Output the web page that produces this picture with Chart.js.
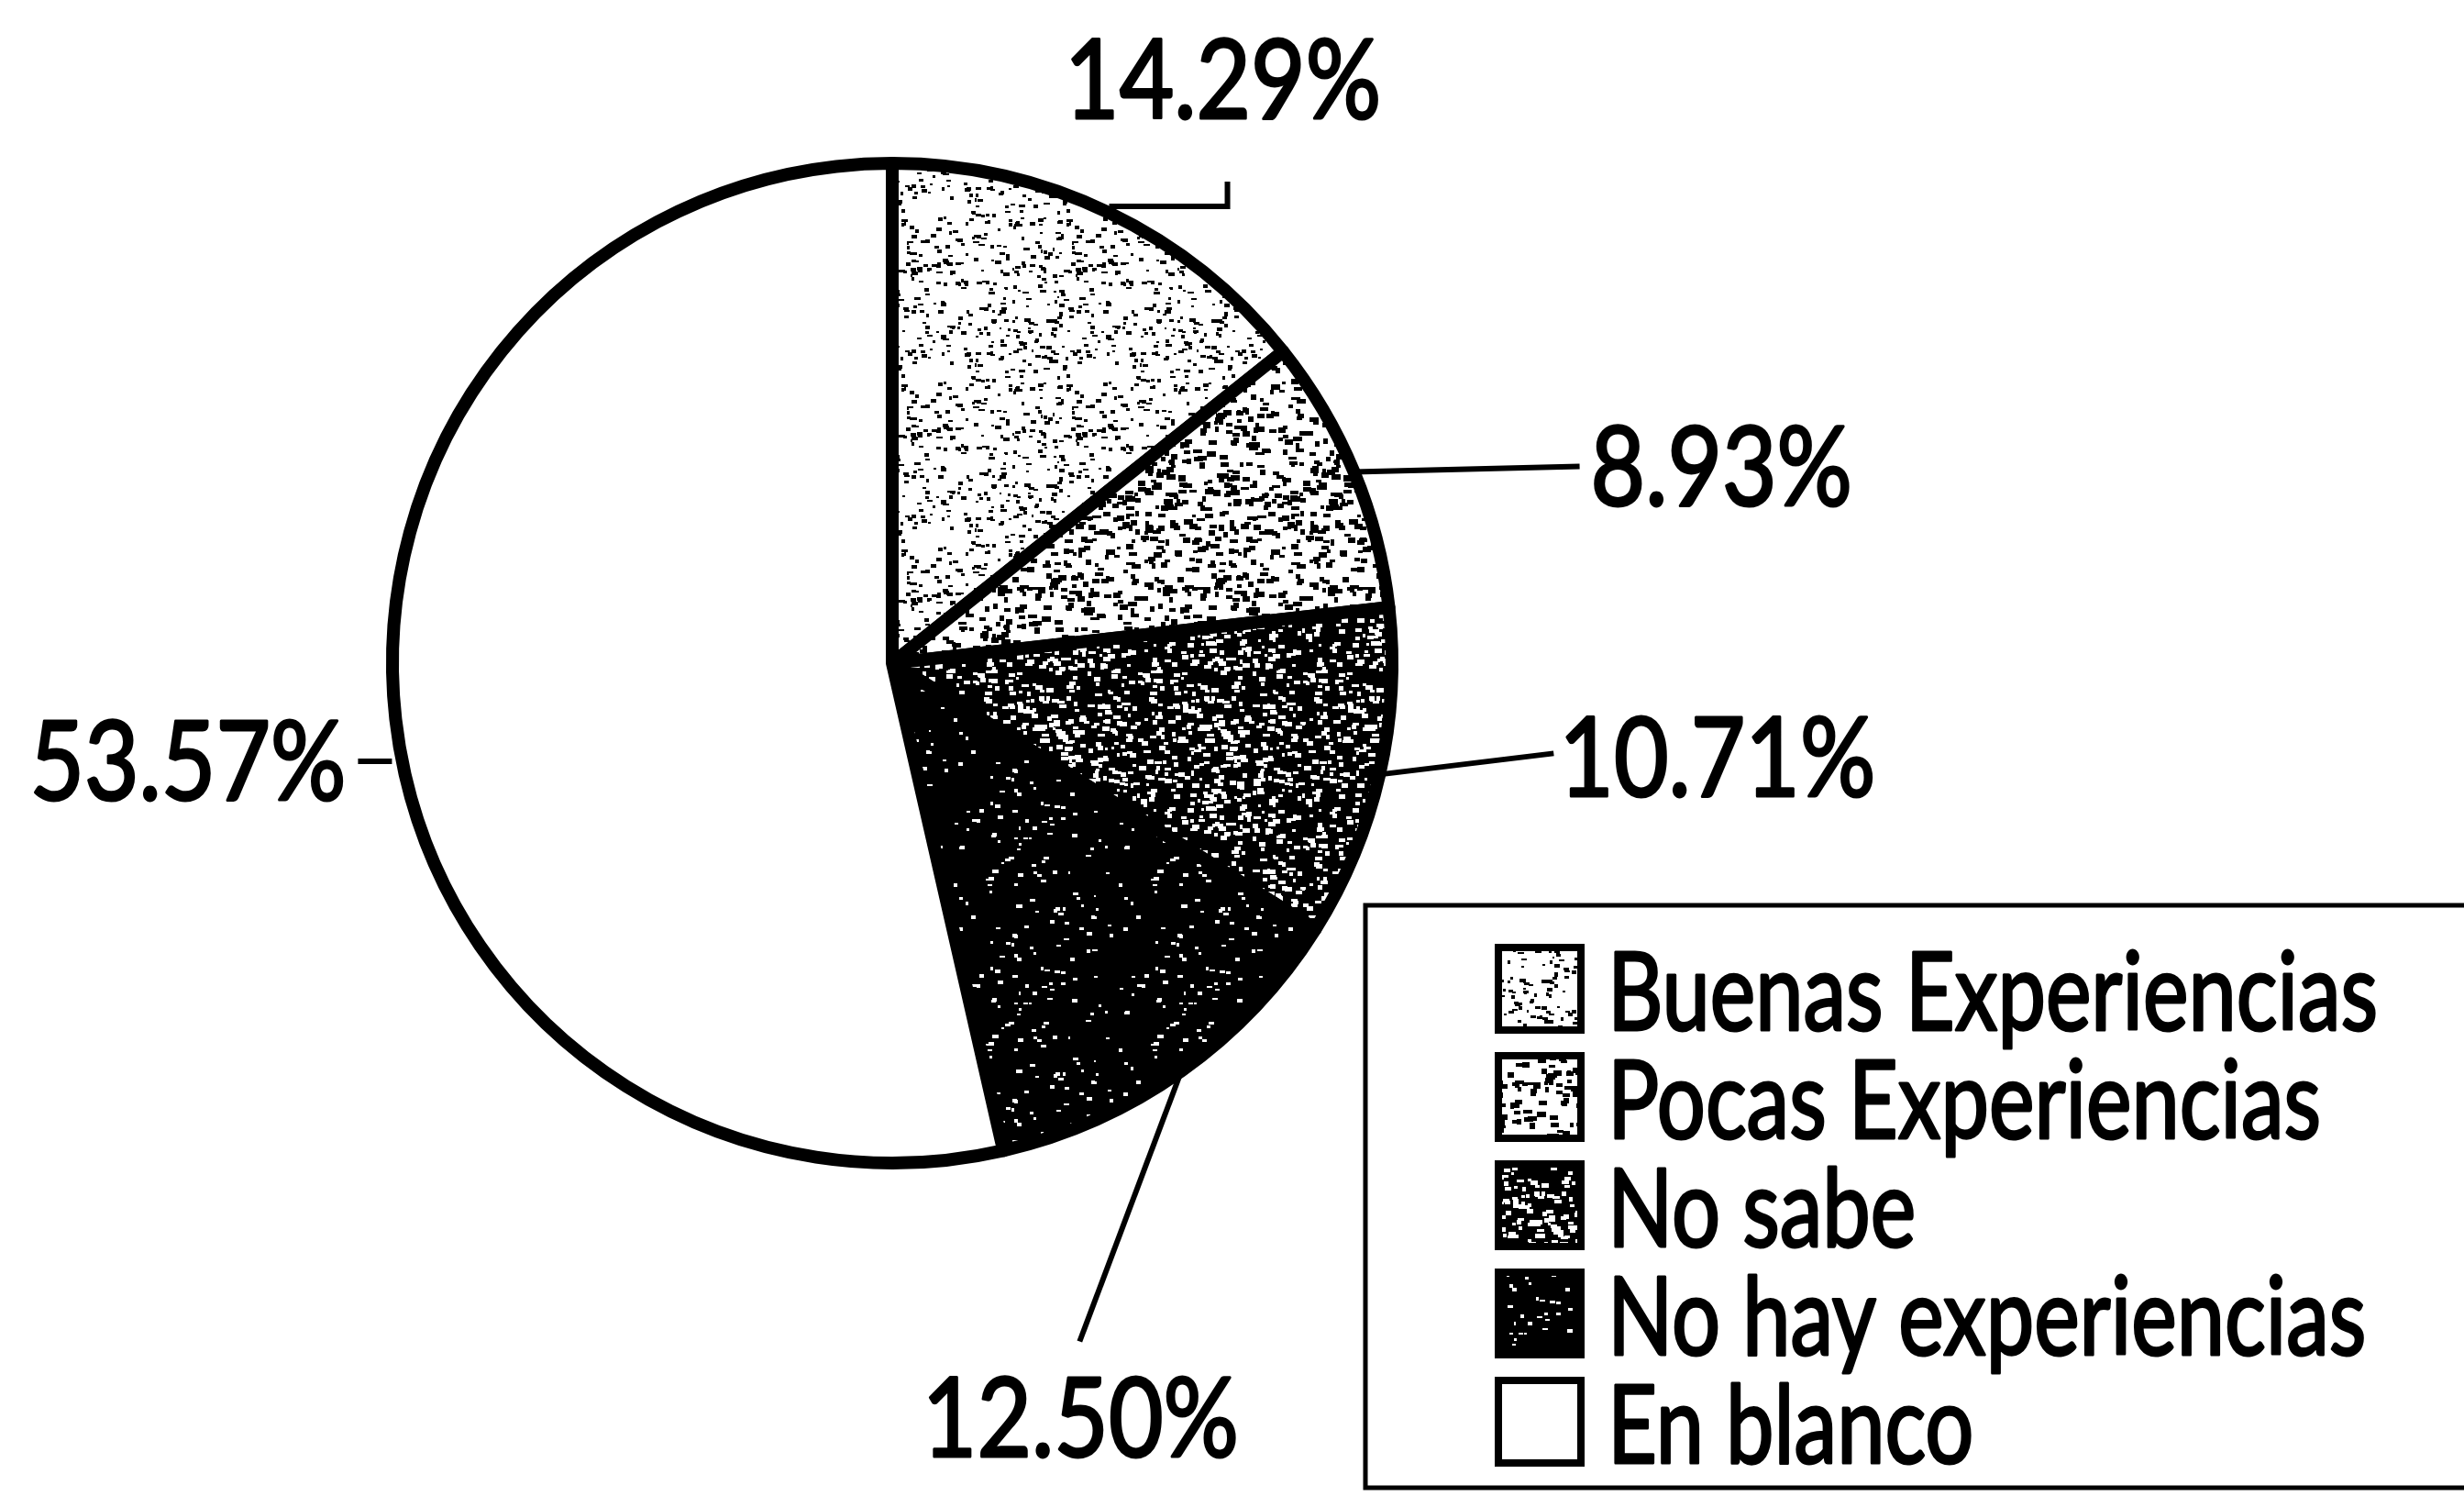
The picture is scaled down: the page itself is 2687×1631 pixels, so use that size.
<!DOCTYPE html>
<html lang="es">
<head>
<meta charset="UTF-8">
<title>Experiencias</title>
<script src="https://cdn.jsdelivr.net/npm/chart.js@4.4.1/dist/chart.umd.min.js"></script>
<style>
  html, body { margin: 0; padding: 0; background: #fff; }
  #grafico { display: block; }
</style>
</head>
<body>
<canvas id="grafico" width="2687" height="1631"></canvas>
<script>
var categorias = ['Buenas Experiencias', 'Pocas Experiencias', 'No sabe', 'No hay experiencias', 'En blanco'];
var porcentajes = [14.29, 8.93, 10.71, 12.50, 53.57];
var etiquetas = ['14.29%', '8.93%', '10.71%', '12.50%', '53.57%'];

var fuente = "Lato, 'Open Sans', sans-serif";

// punteado tipo fotocopia, con semilla fija para que salga siempre igual
function textura(fondo, tinta, densidad, tam, semilla) {
  var lado = 180;
  var c = document.createElement('canvas');
  c.width = lado; c.height = lado;
  var g = c.getContext('2d');
  g.fillStyle = fondo;
  g.fillRect(0, 0, lado, lado);
  g.fillStyle = tinta;
  var s = semilla;
  function azar() {
    s = (s + 0x6D2B79F5) | 0;
    var t = Math.imul(s ^ (s >>> 15), 1 | s);
    t = (t + Math.imul(t ^ (t >>> 7), 61 | t)) ^ t;
    return ((t ^ (t >>> 14)) >>> 0) / 4294967296;
  }
  var n = Math.round(lado * lado * densidad / (tam * tam));
  for (var i = 0; i < n; i++) {
    var x = Math.floor(azar() * lado), y = Math.floor(azar() * lado);
    var w = Math.round(tam * (0.6 + azar() * 1.1)), h = Math.round(tam * (0.5 + azar() * 0.6));
    for (var dx = -lado; dx <= lado; dx += lado) {
      for (var dy = -lado; dy <= lado; dy += lado) {
        g.fillRect(x + dx, y + dy, w, h);
      }
    }
  }
  return g.createPattern(c, 'repeat');
}

var rellenos = [
  textura('#fff', '#000', 0.16, 4, 11),
  textura('#fff', '#000', 0.36, 6, 23),
  textura('#000', '#fff', 0.30, 5, 37),
  textura('#000', '#fff', 0.05, 4, 51),
  '#ffffff'
];

// texto comprimido a lo ancho (y algo engrosado) para parecerse al original
function textoEstrecho(ctx, txt, x, y, k) {
  ctx.save();
  ctx.translate(x, y);
  ctx.scale(k, 1);
  ctx.lineWidth = 3;
  ctx.lineJoin = 'round';
  ctx.strokeText(txt, 0, 0);
  ctx.fillText(txt, 0, 0);
  ctx.restore();
}

// guias de cada etiqueta, relativas al punto medio del arco
var guias = [
  { desde: [0, -7], linea: [[129, -7], [129, -34]], texto: [124, -142], alinear: 'center' },
  { desde: [0, 0], linea: [[246, -6]], texto: [258, -3], alinear: 'left' },
  { desde: [0, 0], linea: [[190, -23]], texto: [196, -15], alinear: 'left' },
  { desde: [0, 0], linea: [[-111, 295]], texto: [-110, 381], alinear: 'center' },
  { desde: [-4, 46], linea: [[-41, 46]], texto: [-54, 49], alinear: 'right' }
];

var pluginEtiquetas = {
  id: 'etiquetas',
  afterDraw: function (chart) {
    var ctx = chart.ctx;
    var arcos = chart.getDatasetMeta(0).data;
    ctx.save();
    ctx.strokeStyle = '#000';
    ctx.fillStyle = '#000';
    ctx.font = '121px ' + fuente;
    ctx.textBaseline = 'middle';
    var k = 345 / ctx.measureText(etiquetas[0]).width;
    arcos.forEach(function (arco, i) {
      var p = arco.getProps(['x', 'y', 'startAngle', 'endAngle', 'outerRadius'], true);
      var medio = (p.startAngle + p.endAngle) / 2;
      var ax = p.x + Math.cos(medio) * p.outerRadius;
      var ay = p.y + Math.sin(medio) * p.outerRadius;
      var gu = guias[i];
      ctx.lineWidth = 6;
      ctx.beginPath();
      ctx.moveTo(ax + gu.desde[0], ay + gu.desde[1]);
      gu.linea.forEach(function (pt) { ctx.lineTo(ax + pt[0], ay + pt[1]); });
      ctx.stroke();
      ctx.textAlign = gu.alinear;
      textoEstrecho(ctx, etiquetas[i], ax + gu.texto[0], ay + gu.texto[1], k);
    });
    ctx.restore();
  }
};

var pluginLeyenda = {
  id: 'leyendaCaja',
  afterDraw: function (chart) {
    var ctx = chart.ctx;
    var caja = { x: 1489, y: 987, w: 1260, h: 635 };
    var lado = 90, paso = 118, x0 = 1634, y0 = 1033, xt = 1753;
    ctx.save();
    ctx.strokeStyle = '#000';
    ctx.lineWidth = 5;
    ctx.fillStyle = '#fff';
    ctx.fillRect(caja.x, caja.y, caja.w, caja.h);
    ctx.strokeRect(caja.x, caja.y, caja.w, caja.h);
    ctx.font = '118px ' + fuente;
    ctx.textAlign = 'left';
    ctx.textBaseline = 'alphabetic';
    var k = 840 / ctx.measureText(categorias[0]).width;
    categorias.forEach(function (nombre, i) {
      var y = y0 + i * paso;
      ctx.fillStyle = chart.data.datasets[0].backgroundColor[i];
      ctx.fillRect(x0, y, lado, lado);
      ctx.lineWidth = 8;
      ctx.strokeRect(x0, y, lado, lado);
      ctx.fillStyle = '#000';
      textoEstrecho(ctx, nombre, xt, y + lado, k);
    });
    ctx.restore();
  }
};

new Chart(document.getElementById('grafico'), {
  type: 'pie',
  data: {
    labels: categorias,
    datasets: [{
      data: porcentajes,
      backgroundColor: rellenos,
      borderColor: '#000',
      borderWidth: 14,
      borderAlign: 'center',
      borderJoinStyle: 'round',
      radius: 545
    }]
  },
  options: {
    responsive: false,
    animation: false,
    events: [],
    layout: { padding: { left: 0, top: 0, right: 741, bottom: 185 } },
    plugins: {
      legend: { display: false },
      tooltip: { enabled: false }
    }
  },
  plugins: [pluginEtiquetas, pluginLeyenda]
});
</script>
</body>
</html>
